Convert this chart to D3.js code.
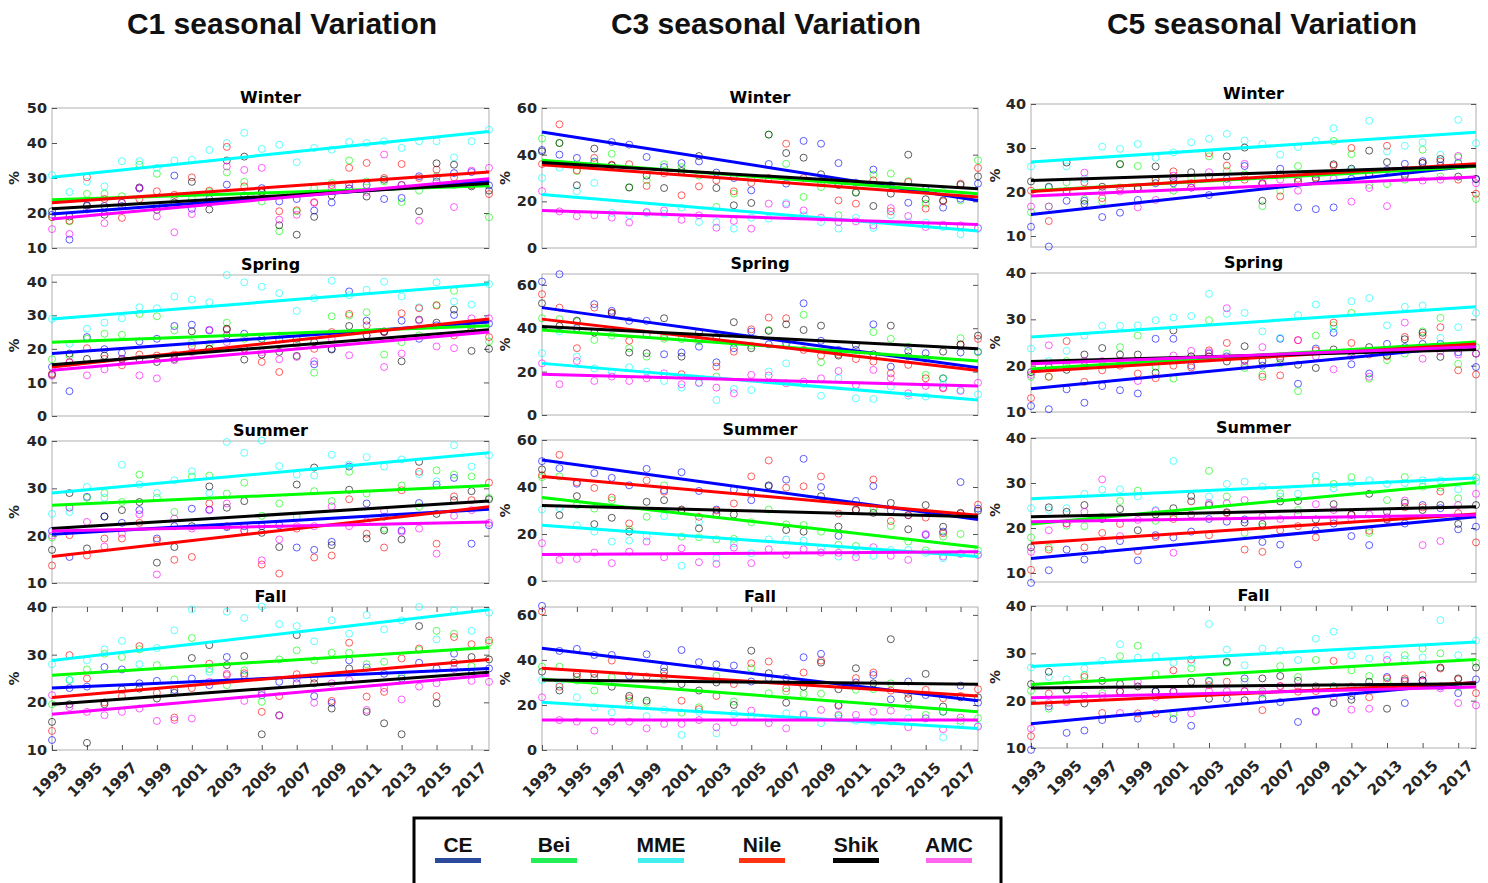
<!DOCTYPE html>
<html>
<head>
<meta charset="utf-8">
<script src="https://cdn.jsdelivr.net/npm/d3@7/dist/d3.min.js"></script>
<style>
  html, body { margin: 0; padding: 0; background: #fff; }
  svg { display: block; }
</style>
</head>
<body>
<div id="chart"></div>
<script>
// ---- data ----
const years = [1993, 1994, 1995, 1996, 1997, 1998, 1999, 2000, 2001, 2002, 2003, 2004, 2005,
  2006, 2007, 2008, 2009, 2010, 2011, 2012, 2013, 2014, 2015, 2016, 2017, 2018];
const xTickLabels = [1993, 1995, 1997, 1999, 2001, 2003, 2005, 2007, 2009, 2011, 2013, 2015, 2017];
const seriesNames = ["CE", "Bei", "MME", "Nile", "Shik", "AMC"];
const plotColors = ["#0000ff", "#00ff00", "#00ffff", "#ff0000", "#000000", "#ff00ff"];
const legendColors = ["#2b4a9c", "#22ee55", "#44eeee", "#ff3311", "#000000", "#ff66ee"];
const columnTitles = ["C1 seasonal Variation", "C3 seasonal Variation", "C5 seasonal Variation"];
const seasons = ["Winter", "Spring", "Summer", "Fall"];

// y limits and ticks per column (Winter, Spring, Summer, Fall)
const yLimitsC1 = [[10, 50], [0, 42], [10, 40], [10, 40]];
const yLimitsC3 = [[0, 60], [0, 65], [0, 60], [0, 63.5]];
const yLimitsC5 = [[7.5, 40], [10, 40], [8, 40], [10, 40]];
const yTicksC1 = [[10, 20, 30, 40, 50], [0, 10, 20, 30, 40], [10, 20, 30, 40], [10, 20, 30, 40]];
const yTicksC3 = [[0, 20, 40, 60], [0, 20, 40, 60], [0, 20, 40, 60], [0, 20, 40, 60]];
const yTicksC5 = [[10, 20, 30, 40], [10, 20, 30, 40], [10, 20, 30, 40], [10, 20, 30, 40]];

// yearly values, one row per series: CE, Bei, MME, Nile, Shik, AMC
const c1Winter = [
  [19.5, 12.4, 22, 22, 22, 27, 22, 30.7, 21.2, 24, 28.1, 25, 27.1, 23.3, 24.0, 20.7, 23.0, 28.1, 28, 24.0, 24.3, 30.5, 29, 31.4, 31.7, 27.9],
  [18.8, 17.6, 25.5, 25.5, 24.8, 33.8, 31.2, 24, 24, 26, 31.6, 28.9, 23.3, 14.8, 20.5, 27, 28.6, 35.0, 29.0, 29, 23.1, 26.4, 30.5, 28, 28, 18.8],
  [30.8, 26, 28.9, 27.6, 34.8, 34.8, 32.9, 35.0, 35.2, 38.0, 40.0, 42.9, 38.3, 39.5, 34.5, 38.6, 38.1, 40.3, 40.0, 40.5, 38.6, 40.5, 40.5, 35.9, 40.5, 43.8],
  [18.8, 17.8, 30.2, 24, 18.6, 24, 26.2, 25.2, 30.2, 26.4, 38.9, 27.6, 26, 20.5, 20.8, 23.1, 28, 32.9, 34.3, 30.0, 34.0, 30, 32.4, 30.2, 28, 25.4],
  [20.5, 19, 22.2, 19.5, 22.9, 27.3, 20.9, 23, 28.9, 21.0, 35.0, 36.1, 26, 16.5, 13.8, 18.9, 25.0, 27, 24.7, 29.5, 28, 20.5, 34.2, 33.8, 27.6, 26.4],
  [15.4, 14.0, 21, 17.1, 23, 27.1, 19.0, 14.5, 19.7, 23, 33.3, 32.3, 32.9, 18.1, 19.5, 22.9, 27, 27, 26.0, 36.7, 28, 17.8, 30.2, 21.7, 32.1, 32.9]
];
const c1Spring = [
  [14.6, 7.4, 23.5, 19.9, 18.8, 22.2, 23.0, 26.8, 27.2, 25.5, 24, 24.5, 23.0, 22.8, 23, 15.4, 20.0, 37.1, 28.4, 25, 28.4, 23.0, 27, 30.1, 27, 27.5],
  [16.9, 18, 23.0, 24.5, 24.2, 30.4, 29.7, 25.5, 21.8, 21.5, 27.8, 23, 23, 24, 23, 12.9, 29.7, 29.9, 30.9, 18.3, 22.0, 24, 33.1, 37.3, 26, 22.2],
  [28.9, 21.5, 26.0, 27.8, 29.1, 32.4, 32.1, 35.6, 34.7, 33.9, 42.0, 39.8, 38.5, 36.6, 31.3, 35.1, 40.3, 36.0, 37.6, 40.0, 35.6, 32.4, 39.8, 34.1, 33.2, 39.3],
  [12.6, 16, 20.2, 17, 15.1, 18.3, 18, 18.3, 20.8, 20, 25.7, 20, 16.1, 13.1, 21.5, 20.0, 25.0, 30.4, 27.0, 25, 30.6, 32.1, 32.9, 24, 26, 23.5],
  [12.3, 18.6, 17, 18, 17, 17, 16.1, 17, 25.2, 20, 26.0, 16.8, 18.3, 19.1, 17.9, 22, 19.8, 26.8, 24, 25.2, 16.3, 28.7, 27.8, 31.7, 19.4, 20.0],
  [12, 16, 12.1, 13.9, 17, 12.1, 11.2, 16.6, 19, 25.7, 22, 20, 19, 16.9, 17.6, 16.3, 23, 18.1, 24.0, 14.6, 18.6, 28.4, 20.7, 20.2, 29.1, 29.1]
];
const c1Summer = [
  [21, 15.5, 28.2, 24, 22.7, 25.4, 19.4, 22, 25.7, 25.5, 21.8, 22, 22, 22.2, 17.5, 17.0, 18.7, 34.6, 26.8, 24, 21.1, 26.9, 30.8, 32.2, 18.3, 22.2],
  [19.6, 26, 28.0, 29.0, 27.1, 32.9, 28.0, 25.0, 32.5, 32.7, 28.9, 31.2, 24.2, 26.8, 24, 29.4, 27.3, 33.5, 28.9, 21.5, 30.6, 26.1, 33.8, 32.9, 32.5, 28],
  [24.6, 25.0, 30.3, 28.0, 35.0, 30.8, 29, 31.7, 33.6, 29, 39.8, 37.5, 40.1, 34.7, 32.9, 32.7, 37.1, 35, 36.6, 34.6, 36.1, 33, 31.5, 39.1, 34.6, 37.0],
  [13.7, 20.1, 15.8, 19.4, 19.4, 22.7, 19.0, 14.9, 15.5, 26.8, 22, 21.1, 13.9, 12.0, 21.5, 15.4, 15.8, 27.7, 20.4, 17.5, 29.6, 33.5, 18.3, 28.3, 27.5, 31.2],
  [17.0, 29.0, 17.3, 24.1, 25.4, 27.1, 14.3, 17.6, 22, 30.4, 25.9, 27.3, 20.6, 17.6, 30.8, 34.4, 18.0, 29.7, 19.4, 21.1, 19.2, 35.6, 24.6, 27.5, 29.4, 27.7],
  [20, 25.9, 22.9, 17.7, 20.4, 24.5, 11.8, 23.6, 21.5, 25.4, 26.8, 21, 14.8, 19.2, 22, 22, 26.2, 22, 23, 25.2, 20.8, 21.5, 16.2, 24.2, 25.4, 22.7]
];
const c1Fall = [
  [12.1, 23, 23.3, 27.4, 26.9, 24, 24.5, 22.6, 25.0, 23.6, 29.5, 25.7, 21.5, 24.3, 24.0, 21.3, 19.9, 28.8, 27.3, 26, 25, 28.3, 27.1, 30.2, 26, 27.1],
  [19.6, 24.7, 26.9, 30.2, 29.5, 31.1, 27.8, 24.8, 33.5, 27, 23.6, 26.7, 20.1, 29.0, 30.9, 28.8, 30.4, 30.4, 28, 28.5, 25.4, 31, 35.0, 34.4, 27.6, 32.5],
  [28, 24.7, 28.8, 31.1, 32.9, 28, 31.4, 35.1, 39.5, 26.4, 39.0, 37.7, 40.1, 36.4, 36.0, 32.8, 37.2, 34.4, 38.3, 35.3, 37.2, 40.0, 33.2, 39.3, 35.0, 38.8],
  [14.0, 29.9, 25.0, 20, 21.3, 31.8, 22, 16.8, 23, 28.1, 25.7, 26.1, 18.0, 21.3, 25.9, 25, 20.3, 32.5, 21.2, 22.2, 29.2, 31.3, 21.3, 33.7, 32.2, 33.0],
  [15.9, 19.6, 11.5, 19.6, 22.7, 22.9, 20.8, 22, 29.3, 32.0, 27.8, 29.7, 13.3, 17.3, 34.1, 24, 18.7, 27.1, 18.0, 15.6, 13.3, 36.0, 19.8, 28.3, 29.5, 29.0],
  [21.5, 19, 18.0, 17.3, 18.0, 18.7, 16.1, 16.3, 16.6, 24.3, 26, 20.3, 22, 17.2, 25, 19.9, 24, 24.7, 18.4, 23, 20.6, 23.3, 24.0, 27, 24.5, 24.3]
];
const c3Winter = [
  [42, 40, 38.6, 37, 45.4, 44.3, 39.0, 34.7, 36.4, 37.1, 32.3, 30, 24.7, 36.0, 27.6, 45.9, 44.7, 36.4, 28, 33.6, 27, 19.4, 25, 17.3, 21.1, 27.6],
  [46.9, 45.0, 33, 36.6, 40.4, 26.1, 29.0, 35.9, 34.7, 31, 17.6, 23.3, 30, 48.6, 36.1, 21.9, 26.1, 14.0, 24.0, 31.4, 31.9, 28.7, 19.0, 24, 20.4, 37.6],
  [30, 34.4, 24.3, 27.9, 15, 14, 15, 14.7, 17.3, 11.1, 11.1, 8.3, 13, 12.6, 19.3, 14, 11.1, 8.3, 12.9, 8.6, 14.0, 11, 10.9, 9.0, 5.9, 8.3],
  [36, 53.0, 33.3, 38.6, 35.7, 35.9, 26.6, 32, 22.6, 26.4, 29, 24.3, 27.9, 30, 44.7, 30, 28, 20.4, 19.0, 29.0, 15.7, 28.3, 16.9, 20.0, 27.6, 34.3],
  [41.4, 45.0, 26.9, 42.6, 35.4, 25.9, 31, 25.7, 33, 39.4, 25.7, 18.3, 19.3, 48.6, 40.7, 38.7, 31.6, 27, 23.7, 18.0, 23.3, 40.0, 20.9, 20.4, 27.1, 30.7],
  [24.4, 15.7, 13.6, 14.0, 13.0, 10.9, 15.4, 16.1, 12.1, 14.0, 8.7, 11.6, 8.3, 19.0, 18.7, 16.1, 13.0, 11.1, 11.4, 9.7, 17.1, 13.7, 9.0, 10, 9.7, 8.6]
];
const c3Spring = [
  [61.5, 64.9, 40, 51.1, 48.0, 43.4, 43.4, 28.0, 28.8, 31.5, 24.3, 30.8, 38.5, 32.6, 33, 51.5, 34.2, 30, 30, 41.8, 22.3, 29.5, 28.5, 16.9, 28.8, 29.2],
  [44.6, 44.2, 43.1, 34.6, 36.6, 30.8, 26.9, 35.1, 35, 34, 17.7, 33, 32, 39.2, 32, 46.2, 24.3, 29, 28, 38.2, 35.1, 31.5, 18.5, 16.9, 35.4, 28.9],
  [28.5, 38.5, 26.9, 21.5, 20, 22, 20, 15.7, 12.6, 14.6, 6.9, 12.0, 11.5, 20, 23.8, 14.3, 8.9, 16.9, 7.7, 7.4, 13.1, 8.9, 8.5, 14, 11.5, 9.5],
  [55.7, 49.5, 30.8, 49.5, 47.2, 34.2, 37, 36, 18.8, 35, 22.3, 29.2, 39.5, 44.9, 44.6, 30, 27.4, 28, 25.8, 24.6, 19.2, 23.1, 16.9, 12.3, 32.3, 35.1],
  [51.5, 41, 43.5, 38, 46.9, 28.8, 28.5, 44.6, 26.9, 38.2, 36, 42.8, 30.8, 38.8, 41.8, 39.2, 41.2, 27.4, 32.3, 28, 41.2, 27, 26, 29.2, 32.6, 36.6],
  [23.8, 14.2, 24.9, 15.7, 17.7, 15.7, 16.9, 19.2, 14.2, 14.9, 12.6, 10.0, 18.5, 18.2, 14.6, 15.4, 16.9, 20.3, 13.8, 20.8, 16.9, 10.0, 13.4, 12.6, 11.1, 14.9]
];
const c3Summer = [
  [51, 48, 41.4, 45.9, 43.9, 40.7, 47.7, 38.6, 46.3, 38.3, 30.4, 38.9, 34.4, 40.3, 43.1, 52.0, 40.0, 19.2, 34.1, 40.4, 30, 28.0, 19.6, 21.0, 42.1, 30.8],
  [44.2, 44.5, 32.3, 30.8, 34.4, 22, 27.3, 40.7, 18.9, 18.6, 17.7, 17.9, 25, 30.4, 24.1, 23.8, 21.0, 15.4, 14.9, 30.8, 23.4, 16.8, 13.0, 18.9, 20.0, 13.0],
  [30.4, 31, 23.7, 21.0, 16.8, 17.2, 19, 27.6, 6.5, 25.2, 9.7, 16, 11.8, 17.7, 17.7, 17.2, 14, 10.4, 12, 10.7, 13.2, 13.2, 12, 9.7, 11.8, 11.4],
  [45, 53.7, 42, 39.6, 35.5, 24.5, 42.8, 38, 30, 27.3, 30, 33.0, 44.5, 51.3, 39.7, 40.3, 44.5, 28.7, 30.1, 43.2, 25.5, 28, 27.0, 20.3, 28.7, 32.5],
  [47.5, 28.0, 36.1, 24.2, 26.9, 21.0, 33.7, 34.4, 30.4, 22.4, 28.5, 28.3, 37.9, 40.7, 21.7, 21.0, 36.1, 23.1, 30.4, 29, 33.2, 22.0, 32.3, 23.1, 29.0, 29.9],
  [16.1, 9.0, 9.4, 12.1, 7.6, 12.5, 16.8, 10.1, 13.9, 8.0, 7.3, 14.2, 7.6, 13.5, 11.1, 13.5, 12.1, 12, 10.1, 14.4, 10.7, 9.0, 20.0, 10.4, 11.5, 11.1]
];
const c3Fall = [
  [64.0, 44, 44.9, 42.2, 42.2, 33, 42.5, 36.7, 44.4, 39.0, 38, 37.5, 30.4, 31.9, 32, 41.2, 42.7, 19.6, 30, 33.3, 22.5, 30.4, 24.4, 17.0, 28.6, 21.0],
  [37.0, 37.0, 30.8, 26.4, 32.3, 21.9, 21.0, 31.1, 16.6, 19.0, 32.9, 21.5, 36.3, 25.2, 26, 24.9, 25, 15.1, 26.7, 27.0, 29.6, 19.3, 15.6, 17, 13, 14.1],
  [31.1, 28.9, 23.4, 19.0, 16.7, 20, 15, 17.8, 6.7, 17, 7.4, 16, 15, 14, 16.3, 16.0, 11.9, 14, 13, 12.6, 12.6, 14.1, 14, 5.6, 12, 10.7],
  [61.5, 28.1, 32.6, 32, 39.7, 23.0, 32.6, 33, 21.9, 18.1, 24.0, 29.3, 38.5, 39.3, 27.4, 34.4, 39.7, 20.0, 31.9, 34.4, 26.4, 25, 26.7, 23.0, 24.0, 27.0],
  [34.8, 26.4, 33.8, 33.8, 28.1, 24.0, 21.9, 34.8, 29.3, 26.4, 30, 20.0, 44.1, 34.1, 21.0, 28.1, 38.8, 27.0, 36.3, 29.6, 49.2, 23.0, 33.8, 19.3, 23.4, 23.4],
  [23.4, 13.3, 12.6, 8.6, 12.6, 12.6, 9.6, 11.6, 11.6, 13.3, 10.1, 12.3, 17.5, 11.9, 9.6, 15.6, 17.8, 15.6, 15.6, 17.0, 17.5, 10.1, 14.1, 9.2, 14.4, 10.4]
];
const c5Winter = [
  [12.1, 7.6, 18, 18, 14.3, 15.3, 18.2, 22, 22, 21, 19.3, 23, 25.9, 22, 25.3, 16.5, 16.1, 16.5, 23, 24, 25, 26.4, 27, 26, 26.6, 22.9],
  [15.4, 16.7, 22.2, 18.4, 17.8, 26.4, 25.9, 22.8, 20.3, 23.1, 28.1, 24.8, 24, 16.8, 20.3, 25.9, 24, 31.6, 28.6, 21.6, 21.8, 22.8, 29.6, 23.5, 27.9, 18.4],
  [25.8, 21, 25.8, 23, 30.3, 29.8, 30.9, 27.8, 29.0, 31.3, 32.1, 33.2, 31.7, 30.9, 28.5, 30.2, 31.7, 34.5, 25, 36.2, 29.2, 30.5, 31.3, 28.5, 36.4, 31.1],
  [20.3, 13.4, 20, 22.2, 18.6, 21, 21, 22.9, 24.7, 22, 28.8, 26.0, 22.8, 21.8, 19.0, 23, 23.3, 26.0, 30.0, 24, 30.5, 25, 26.6, 26.9, 22.8, 19.6],
  [22.4, 21.2, 26.7, 17.3, 21.2, 26.3, 20.7, 25.8, 23, 24.5, 23.5, 28.1, 30.1, 18.0, 24, 22.4, 23, 26.3, 25.3, 29.4, 26.8, 23.7, 26.6, 27.5, 23.5, 23.0],
  [16.7, 16.7, 20.3, 24.4, 20, 20.1, 16.5, 18.2, 23.7, 21.0, 24.5, 22, 26.4, 22, 22.8, 20.3, 24, 23, 17.8, 20.9, 16.8, 24, 22.6, 22.8, 28.2, 22.0]
];
const c5Spring = [
  [11.3, 10.6, 14.9, 12.0, 15.6, 14.7, 14.0, 25.8, 25.8, 20, 22.6, 22, 21.2, 20, 25.8, 16.1, 23.7, 27.1, 20.3, 18.3, 24.7, 24, 24.7, 24.7, 22.9, 19.7],
  [17.6, 17.6, 21, 20, 20, 24.0, 26.5, 19.7, 17.2, 22, 29.8, 22.6, 19.5, 18.1, 20.5, 14.5, 26.5, 28.7, 31.4, 17.2, 21.2, 22.6, 27.4, 30.3, 20.4, 24],
  [23.7, 21, 23.2, 26.5, 28.6, 28.6, 28.7, 29.8, 30.4, 30.7, 35.5, 31.2, 31.4, 27.4, 26, 30.9, 33.2, 28, 33.9, 34.6, 28.7, 32.7, 33.0, 26, 28.3, 31.4],
  [13.0, 17.6, 25.3, 16.5, 19.0, 20, 18.3, 17.3, 20, 19.6, 23.3, 24.9, 20, 17.6, 17.9, 25.5, 23.3, 29.3, 24.9, 22.4, 22, 26.2, 26.5, 28.3, 19.0, 18.1],
  [18.6, 19.7, 19.1, 22.4, 23.8, 22.4, 22.4, 18.5, 27.6, 22, 22, 20.9, 24.2, 21, 21.5, 20.2, 19.5, 23.5, 23, 24.0, 22.2, 25.7, 27.1, 21.9, 24, 22.6],
  [18, 24.4, 20, 21, 21, 21, 16.7, 21, 22.2, 23.2, 22.9, 32.4, 21, 24.0, 22, 25.5, 22, 19.2, 22, 17.6, 23, 29.3, 21.5, 23.1, 22.4, 22.6]
];
const c5Summer = [
  [7.8, 10.6, 15.2, 13.0, 15.1, 17.1, 12.8, 18.4, 17.9, 19.2, 22.0, 21.4, 21.9, 16.9, 16.3, 11.9, 19.5, 21, 18.2, 16.2, 22, 21.0, 25.1, 24.4, 19.7, 20.3],
  [17.9, 15.7, 20.5, 20.4, 22.5, 26.0, 28.3, 21.6, 22.5, 23, 32.7, 27.0, 18.9, 20.3, 27.7, 24, 30.3, 29.8, 31.3, 18.9, 26.2, 31.3, 29.2, 29, 26.6, 31.2],
  [24.4, 24, 24.4, 27.6, 28.5, 28.6, 27, 24, 34.9, 26, 27, 29.8, 30.3, 29.2, 27, 27.6, 31.6, 28.8, 30, 30.6, 29.8, 30, 30.6, 30.6, 28.6, 30.3],
  [10.7, 15.2, 21.0, 15.7, 18.9, 20.9, 14.9, 18.0, 22, 25.9, 18.4, 23.3, 15.2, 14.7, 19.5, 20.4, 17.9, 21.8, 22.9, 19.4, 21.8, 24.6, 24.6, 28.1, 23.3, 16.8],
  [15.7, 24.6, 23.6, 25.1, 22, 24.2, 19.5, 23, 24.4, 27.1, 25.1, 23.5, 21.2, 20.9, 25.9, 26.0, 21.9, 25.3, 23, 27.6, 23.6, 25.6, 24.0, 25.1, 20.9, 25.1],
  [14.7, 19.5, 21, 23.6, 30.8, 18.2, 21.8, 23.8, 14.5, 23, 25.5, 25.5, 26.2, 22.5, 22, 23, 25.3, 24, 22, 23, 22.4, 26.1, 16.2, 17.1, 25.1, 27.6]
];
const c5Fall = [
  [9.6, 18.8, 13.2, 13.7, 15.9, 22, 16.2, 22, 16.1, 14.7, 24.2, 20.4, 24.7, 20.4, 19.7, 15.5, 17.8, 23, 21.0, 23, 25.0, 19.5, 24.3, 23, 21.6, 24.5],
  [22.1, 18.3, 22.2, 25.4, 21.6, 29.4, 31.6, 25.6, 17.3, 26.8, 24, 28.0, 24, 21.5, 27.3, 25.0, 28.6, 23, 26.4, 25.2, 24, 29.6, 31.0, 30.0, 23, 28.0],
  [27, 25.0, 24.5, 26.8, 28.4, 31.9, 29.1, 29.4, 28.0, 28, 36.2, 30.8, 27.5, 31.0, 30.5, 28.6, 33.1, 34.6, 29.6, 28.9, 29.6, 28.7, 29.1, 37.0, 29.6, 32.7],
  [12.5, 21.5, 20, 25.0, 17.4, 21.9, 17.3, 17.3, 26.4, 28.7, 23.3, 24.0, 22, 18.0, 23.1, 21.9, 22, 28.4, 23, 20.7, 24.7, 24.7, 25.4, 26.8, 24.5, 21.6],
  [23.5, 26.1, 22.3, 19.4, 24.2, 23.5, 23, 21.9, 21.9, 24.0, 20.4, 28.2, 20.1, 24.7, 25.2, 24.2, 23, 19.5, 20.2, 24.0, 18.3, 24.3, 24.3, 27.0, 24.7, 27.0],
  [14.1, 19.5, 19.7, 21, 21, 17.4, 24.0, 20.7, 22, 17.3, 22, 22, 22, 22, 23, 23, 17.6, 20.8, 18.1, 18.3, 28.6, 24, 24, 22.6, 19.5, 19.0]
];

// linear trend, value at 1993 and at 2018, per series
const c1WinterFit = [[19.7, 29.0], [23.8, 27.8], [30.2, 43.3], [22.9, 31.7], [21.2, 28.4], [18.3, 29.8]];
const c1SpringFit = [[18.6, 28.0], [22.0, 26.9], [28.9, 39.3], [14.6, 28.9], [15.3, 25.7], [13.6, 25.0]];
const c1SummerFit = [[20.3, 25.6], [26.4, 30.6], [29.0, 37.5], [15.6, 26.1], [21.5, 27.3], [21.0, 22.9]];
const c1FallFit = [[23.0, 27.1], [25.7, 31.5], [28.8, 39.4], [21.0, 29.0], [19.6, 26.3], [17.5, 25.7]];
const c3WinterFit = [[49.7, 20.4], [37.6, 23.3], [22.9, 7.3], [35.7, 21.9], [36.6, 25.4], [16.1, 10.1]];
const c3SpringFit = [[49.5, 21.8], [39.2, 24.9], [23.8, 6.9], [44.2, 20.5], [40.8, 30.5], [18.8, 13.4]];
const c3SummerFit = [[51.5, 26.2], [35.5, 14.4], [23.7, 10.4], [44.5, 28.0], [32.1, 27.3], [11.3, 12.4]];
const c3FallFit = [[45.2, 21.9], [31.4, 17.0], [21.2, 9.6], [36.3, 24.0], [31.1, 29.2], [13.3, 13.3]];
const c5WinterFit = [[14.9, 26.0], [20.3, 25.8], [26.8, 33.6], [20.1, 26.4], [22.6, 25.9], [19.1, 23.4]];
const c5SpringFit = [[15.0, 24.4], [19.3, 25.1], [26.2, 32.7], [18.7, 24.7], [20.9, 23.5], [20.4, 24.1]];
const c5SummerFit = [[13.2, 22.5], [20.9, 30.1], [26.5, 31.1], [16.6, 23.1], [22.5, 24.7], [21.4, 22.9]];
const c5FallFit = [[15.1, 23.9], [23.4, 28.7], [27.2, 32.4], [19.4, 23.8], [22.7, 23.6], [20.6, 22.9]];

// ---- layout ----
const W = 1488, H = 883;
const colX = [[52, 489], [542, 978], [1031, 1476]];
const rowY = [
  [[108, 248], [275, 416], [441, 583], [607, 750]],
  [[108, 248], [274, 415], [440, 581], [607, 750]],
  [[104, 247], [273, 412], [438, 582], [606, 748]]
];
const titleX = [282, 766, 1262];
const percentX = [14, 505, 995];
const legendX = [458, 554, 661, 762, 856, 949];

const columns = [
  { values: [c1Winter, c1Spring, c1Summer, c1Fall], fits: [c1WinterFit, c1SpringFit, c1SummerFit, c1FallFit], limits: yLimitsC1, ticks: yTicksC1 },
  { values: [c3Winter, c3Spring, c3Summer, c3Fall], fits: [c3WinterFit, c3SpringFit, c3SummerFit, c3FallFit], limits: yLimitsC3, ticks: yTicksC3 },
  { values: [c5Winter, c5Spring, c5Summer, c5Fall], fits: [c5WinterFit, c5SpringFit, c5SummerFit, c5FallFit], limits: yLimitsC5, ticks: yTicksC5 }
];

const tickFont = "'DejaVu Sans', sans-serif";
const titleFont = "'Liberation Sans', Arial, sans-serif";

const svg = d3.select("#chart")
  .append("svg")
  .attr("width", W)
  .attr("height", H)
  .attr("viewBox", `0 0 ${W} ${H}`);

svg.append("rect").attr("width", W).attr("height", H).attr("fill", "#fff");

// column titles
svg.selectAll(".col-title")
  .data(columnTitles)
  .enter()
  .append("text")
  .attr("class", "col-title")
  .attr("x", (d, i) => titleX[i])
  .attr("y", 34)
  .attr("text-anchor", "middle")
  .attr("font-family", titleFont)
  .attr("font-weight", 700)
  .attr("font-size", "30px")
  .attr("fill", "#111")
  .text(d => d);

function styleAxis(g, size) {
  g.select(".domain").remove();
  g.selectAll(".tick line").attr("stroke", "#555").attr("stroke-width", 1);
  g.selectAll(".tick text")
    .attr("font-family", tickFont)
    .attr("font-weight", 700)
    .attr("font-size", size || "14.5px")
    .attr("fill", "#262626");
}

function drawPanel(ci, ri) {
  const col = columns[ci];
  const [x0, x1] = colX[ci];
  const [y0, y1] = rowY[ci][ri];
  const values = col.values[ri];
  const fit = col.fits[ri];

  const x = d3.scaleLinear().domain([years[0], years[years.length - 1]]).range([x0, x1]);
  const y = d3.scaleLinear().domain(col.limits[ri]).range([y1, y0]);

  const g = svg.append("g").attr("class", `panel c${ci} r${ri}`);

  // box
  g.append("rect")
    .attr("x", x0).attr("y", y0)
    .attr("width", x1 - x0).attr("height", y1 - y0)
    .attr("fill", "#fff")
    .attr("stroke", "#bdbdbd")
    .attr("stroke-width", 1.2);

  // y axes (left labelled, right ticks only)
  g.append("g")
    .attr("transform", `translate(${x0},0)`)
    .call(d3.axisLeft(y).tickValues(col.ticks[ri]).tickSizeInner(-5).tickSizeOuter(0).tickPadding(5))
    .call(styleAxis);
  g.append("g")
    .attr("transform", `translate(${x1},0)`)
    .call(d3.axisRight(y).tickValues(col.ticks[ri]).tickSizeInner(-5).tickSizeOuter(0).tickFormat(""))
    .call(styleAxis);

  // x ticks on the bottom row only
  if (ri === seasons.length - 1) {
    const xb = g.append("g")
      .attr("transform", `translate(0,${y1})`)
      .call(d3.axisBottom(x).tickValues(xTickLabels).tickSizeInner(-5).tickSizeOuter(0).tickFormat(d => String(d)))
      .call(styleAxis, "15px");
    xb.selectAll(".tick text")
      .attr("text-anchor", "end")
      .attr("x", 0).attr("y", 0).attr("dy", "0.35em")
      .attr("transform", "translate(12,15) rotate(-45)");
    g.append("g")
      .attr("transform", `translate(0,${y0})`)
      .call(d3.axisTop(x).tickValues(xTickLabels).tickSizeInner(-5).tickSizeOuter(0).tickFormat(""))
      .call(styleAxis);
  }

  // season label
  g.append("text")
    .attr("x", (x0 + x1) / 2)
    .attr("y", y0 - 5)
    .attr("text-anchor", "middle")
    .attr("font-family", tickFont)
    .attr("font-weight", 700)
    .attr("font-size", "16px")
    .attr("fill", "#000")
    .text(seasons[ri]);

  // % label
  g.append("text")
    .attr("transform", `translate(${percentX[ci]},${(y0 + y1) / 2}) rotate(-90)`)
    .attr("text-anchor", "middle")
    .attr("dy", "0.35em")
    .attr("font-family", tickFont)
    .attr("font-weight", 700)
    .attr("font-size", "14px")
    .attr("fill", "#262626")
    .text("%");

  // yearly circles
  values.forEach((vals, si) => {
    g.append("g")
      .selectAll("circle")
      .data(vals)
      .enter()
      .append("circle")
      .attr("cx", (d, i) => x(years[i]))
      .attr("cy", d => y(d))
      .attr("r", 3.5)
      .attr("fill", "none")
      .attr("stroke", plotColors[si])
      .attr("stroke-width", 0.9)
      .attr("stroke-opacity", 0.7);
  });

  // trend lines
  const line = d3.line().x(d => x(d[0])).y(d => y(d[1]));
  fit.forEach((f, si) => {
    g.append("path")
      .datum([[years[0], f[0]], [years[years.length - 1], f[1]]])
      .attr("d", line)
      .attr("fill", "none")
      .attr("stroke", plotColors[si])
      .attr("stroke-width", 3);
  });
}

columns.forEach((c, ci) => seasons.forEach((s, ri) => drawPanel(ci, ri)));

// legend
const legend = svg.append("g").attr("class", "legend");
legend.append("rect")
  .attr("x", 414).attr("y", 818)
  .attr("width", 587).attr("height", 90)
  .attr("fill", "#fff")
  .attr("stroke", "#000")
  .attr("stroke-width", 3);

const items = legend.selectAll(".item")
  .data(seriesNames)
  .enter()
  .append("g")
  .attr("class", "item")
  .attr("transform", (d, i) => `translate(${legendX[i]},0)`);

items.append("text")
  .attr("y", 852)
  .attr("text-anchor", "middle")
  .attr("font-family", titleFont)
  .attr("font-weight", 700)
  .attr("font-size", "21px")
  .attr("fill", "#111")
  .text(d => d);

items.append("rect")
  .attr("x", -23).attr("y", 858)
  .attr("width", 46).attr("height", 5)
  .attr("fill", (d, i) => legendColors[i]);
</script>
</body>
</html>
